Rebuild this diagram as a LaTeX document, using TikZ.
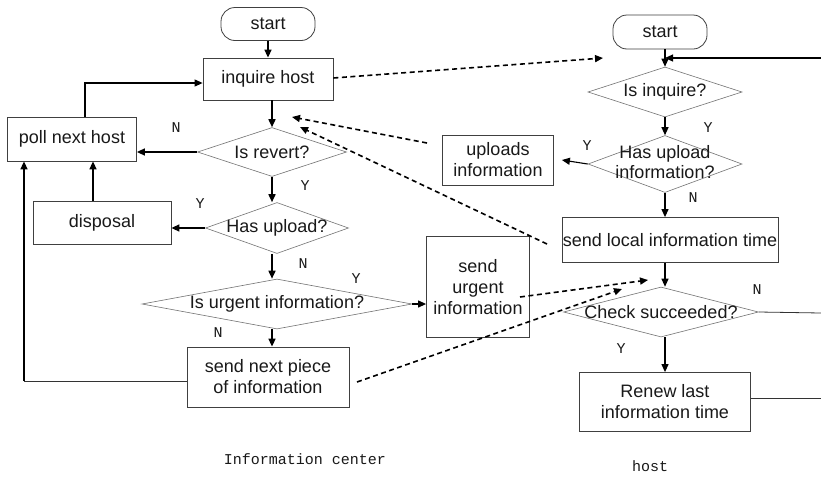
\documentclass[tikz,border=0pt]{standalone}
\usepackage{fontspec}
\setmainfont{Liberation Sans}
\newfontfamily\monofont{Liberation Mono}
\usetikzlibrary{arrows.meta,shapes.geometric}
\begin{document}
\begin{tikzpicture}[x=1pt,y=-1pt,
  every node/.style={font=\fontsize{18}{21}\selectfont, text=black!90},
  box/.style={draw=black!75, line width=0.8pt, rectangle, align=center, inner sep=1pt},
  term/.style={box, rounded corners=14pt},
  dec/.style={draw=black!55, line width=0.6pt, diamond, inner sep=0pt, align=center},
  arr/.style={-{Triangle[length=8pt,width=7pt]}, line width=1.6pt, black},
  arrthin/.style={-{Triangle[length=8pt,width=7pt]}, line width=1.1pt, black},
  plain/.style={line width=0.8pt, black!80},
  dsh/.style={-{Triangle[length=8pt,width=7pt]}, line width=1.6pt, black, dash pattern=on 5pt off 3.5pt},
  yn/.style={font=\monofont\fontsize{15}{15}\selectfont, inner sep=0pt},
  captext/.style={font=\monofont\fontsize{15}{15}\selectfont, inner sep=0pt}
]
\useasboundingbox (0,0) rectangle (821,477);
\fill[white] (0,0) rectangle (821,477);

% ---------- left chart ----------
\node[term, minimum width=94pt, minimum height=33pt] (startL) at (268,24) {start};
\node[box, minimum width=130pt, minimum height=42pt] (inquire) at (268,79) {inquire host};
\node[dec, minimum width=149pt, minimum height=49pt] (revert) at (272,152) {\makebox[0pt]{Is revert?}};
\node[box, minimum width=129pt, minimum height=44pt] (poll) at (72,139) {poll next host};
\node[box, minimum width=138pt, minimum height=43pt] (disposal) at (102,223) {disposal};
\node[dec, minimum width=143pt, minimum height=51pt] (hasup) at (277,228) {\makebox[0pt]{Has upload?}};
\node[dec, minimum width=270pt, minimum height=50pt] (urgent) at (277,304) {\makebox[0pt]{Is urgent information?}};
\node[box, minimum width=162pt, minimum height=60pt] (sendnext) at (268,377) {send next piece\\of information};
\node[box, minimum width=103pt, minimum height=101pt] (sendurg) at (478,287) {send\\urgent\\information};
\node[captext] (capL) at (305,459) {Information center};

% ---------- right chart ----------
\node[term, minimum width=94pt, minimum height=34pt] (startR) at (660,32) {start};
\node[dec, minimum width=154pt, minimum height=50pt] (inq) at (665,92) {\makebox[0pt]{Is inquire?}};
\node[dec, minimum width=154pt, minimum height=57pt] (hasupI) at (665,164) {\makebox[0pt]{\begin{tabular}{@{}c@{}}Has upload\\[-1pt]information?\end{tabular}}};
\node[box, minimum width=111pt, minimum height=50pt] (uploads) at (498,160) {uploads\\information};
\node[box, minimum width=214pt, minimum height=45pt] (sendlocal) at (670,240) {send local information time};
\node[dec, minimum width=195pt, minimum height=50pt] (check) at (661,312) {\makebox[0pt]{Check succeeded?}};
\node[box, minimum width=171pt, minimum height=59pt] (renew) at (665,402) {Renew last\\information time};
\node[captext] (capR) at (650,466) {host};

% ---------- left connectors ----------
\draw[arr] (startL) -- (inquire);
\draw[arr] (inquire.south -| revert.north) -- (revert.north);
\draw[arr] (revert.west) -- (revert.west -| poll.east);
\draw[arrthin] ([xshift=13pt]poll.north) |- ([yshift=-4pt]inquire.west);
\draw[arr] (revert.south) -- (revert.south |- hasup.north);
\draw[arr] (hasup.west) -- (hasup.west -| disposal.east);
\draw[arr] ([xshift=-9pt]disposal.north) -- ([xshift=-9pt]disposal.north |- poll.south);
\draw[arr] (hasup.south -| revert.south) -- (revert.south |- urgent.north);
\draw[arrthin] (urgent.east) -- (urgent.east -| sendurg.west);
\draw[arr] (urgent.south -| revert.south) -- (revert.south |- sendnext.north);
\draw[plain] ([yshift=-4pt]sendnext.west) -- ([xshift=-48pt,yshift=-4pt]poll.south |- sendnext.west);
\draw[arr] ([xshift=-48pt,yshift=-4pt]poll.south |- sendnext.west) -- ([xshift=-48pt]poll.south);

% ---------- right connectors ----------
\draw[arrthin] (inq.north |- startR.south) -- (inq.north);
\draw[arrthin] (inq.south) -- (hasupI.north);
\draw[arrthin] (hasupI.west) -- ([xshift=8pt]uploads.east);
\draw[arrthin] (hasupI.south) -- (hasupI.south |- sendlocal.north);
\draw[arrthin] (sendlocal.south -| inq.south) -- (inq.south |- check.north);
\draw[arrthin] (check.south -| inq.south) -- (inq.south |- renew.north);
\coordinate (fbR) at (821,58);
\coordinate (ckR) at (821,313);
\coordinate (rnR) at (821,398);
\draw[arrthin] (fbR) -- (fbR -| inq.north);
\draw[plain] (check.east) -- (ckR);
\draw[plain] (renew.east |- rnR) -- (rnR);

% ---------- dashed messages ----------
\coordinate (d1e) at (603,58);
\coordinate (d2s) at (427,143);
\coordinate (d2e) at (292,117);
\coordinate (d3s) at (547,244);
\coordinate (d3e) at (300,127);
\coordinate (d4s) at (520,297);
\coordinate (d4e) at (648,280);
\coordinate (d5s) at (357,382);
\coordinate (d5e) at (622,289);
\draw[dsh] ([yshift=1pt]inquire.east) -- (d1e);
\draw[dsh] (d2s) -- (d2e);
\draw[dsh] (d3s) -- (d3e);
\draw[dsh] (d4s) -- (d4e);
\draw[dsh] (d5s) -- (d5e);

% ---------- Y / N labels ----------
\node[yn] (l1) at (176,128) {N};
\node[yn] (l2) at (305,186) {Y};
\node[yn] (l3) at (200,204) {Y};
\node[yn] (l4) at (303,264) {N};
\node[yn] (l5) at (356,279) {Y};
\node[yn] (l6) at (218,333) {N};
\node[yn] (l7) at (708,128) {Y};
\node[yn] (l8) at (587,146) {Y};
\node[yn] (l9) at (693,198) {N};
\node[yn] (l10) at (757,290) {N};
\node[yn] (l11) at (621,349) {Y};
\end{tikzpicture}
\end{document}
